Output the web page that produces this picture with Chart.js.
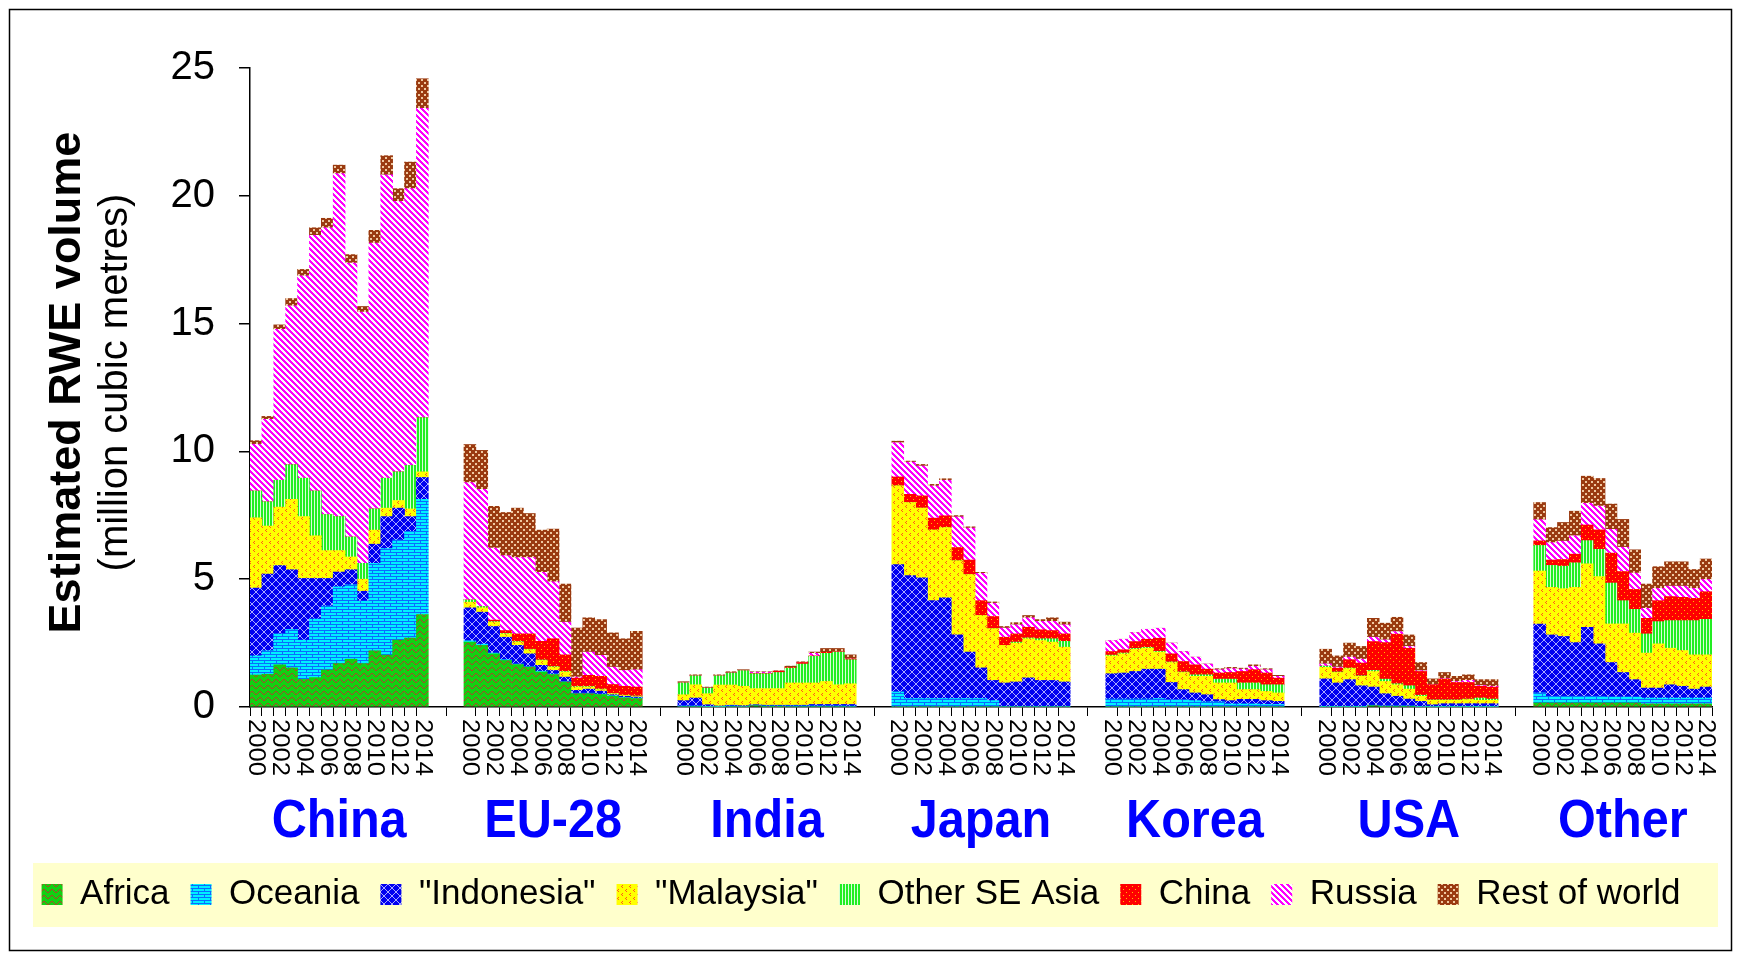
<!DOCTYPE html>
<html>
<head>
<meta charset="utf-8">
<script src="https://cdn.jsdelivr.net/npm/chart.js@4"></script>
<style>
  html, body { margin: 0; padding: 0; background: #fff; }
  canvas { display: block; }
</style>
</head>
<body>
<canvas id="c" width="1741" height="954"></canvas>
<script>
// groups along the x axis, 15 years each
const regions = ['China', 'EU-28', 'India', 'Japan', 'Korea', 'USA', 'Other']
const years = ['2000', '2001', '2002', '2003', '2004', '2005', '2006', '2007',
  '2008', '2009', '2010', '2011', '2012', '2013', '2014']
const yTicks = [0, 5, 10, 15, 20, 25]

// million m3 RWE, one row of 15 years per region (China, EU-28, India, Japan, Korea, USA, Other)
const africa = [
  1.25, 1.28, 1.65, 1.53, 1.08, 1.15, 1.45, 1.7, 1.87, 1.7, 2.2, 2.03, 2.62, 2.7, 3.62,
  2.54, 2.41, 2.08, 1.82, 1.66, 1.56, 1.37, 1.27, 0.98, 0.52, 0.52, 0.49, 0.42, 0.36, 0.33,
  0, 0, 0, 0, 0, 0, 0.05, 0.03, 0.03, 0, 0, 0, 0, 0, 0,
  0, 0, 0, 0, 0, 0, 0, 0, 0, 0, 0, 0, 0, 0, 0,
  0, 0, 0, 0, 0, 0, 0, 0, 0, 0, 0, 0, 0, 0, 0,
  0, 0, 0, 0, 0.05, 0.03, 0.03, 0.03, 0, 0, 0, 0, 0, 0, 0,
  0.16, 0.16, 0.16, 0.16, 0.16, 0.16, 0.16, 0.16, 0.16, 0.12, 0.12, 0.12, 0.12, 0.12, 0.12,
]
const oceania = [
  0.75, 0.92, 1.22, 1.5, 1.54, 2.3, 2.5, 3.0, 2.91, 2.45, 3.42, 4.17, 3.91, 4.17, 4.5,
  0.05, 0.05, 0.03, 0.03, 0.03, 0.03, 0.03, 0.02, 0.02, 0.02, 0.02, 0.02, 0.02, 0.02, 0.02,
  0.05, 0.05, 0.02, 0.02, 0.05, 0.03, 0.02, 0.02, 0.02, 0.05, 0.05, 0.05, 0.05, 0.05, 0.04,
  0.59, 0.33, 0.33, 0.33, 0.33, 0.33, 0.33, 0.33, 0.25, 0.03, 0.03, 0.03, 0.03, 0.03, 0.03,
  0.31, 0.31, 0.31, 0.31, 0.33, 0.29, 0.29, 0.25, 0.2, 0.2, 0.12, 0.12, 0.12, 0.1, 0.1,
  0.02, 0.02, 0.02, 0.02, 0.02, 0.02, 0.02, 0.02, 0.02, 0.02, 0.02, 0.02, 0.02, 0.02, 0.02,
  0.39, 0.26, 0.26, 0.26, 0.26, 0.26, 0.24, 0.24, 0.24, 0.23, 0.23, 0.23, 0.23, 0.23, 0.23,
]
const indonesia = [
  2.65, 3.0, 2.66, 2.34, 2.41, 1.58, 1.08, 0.58, 0.59, 0.38, 0.75, 1.25, 1.25, 0.58, 0.86,
  1.29, 1.25, 1.04, 0.88, 0.72, 0.49, 0.23, 0.14, 0.17, 0.11, 0.16, 0.11, 0.04, 0.04, 0.04,
  0.2, 0.3, 0.07, 0.02, 0.02, 0.02, 0.02, 0.02, 0.02, 0.02, 0.02, 0.05, 0.05, 0.05, 0.06,
  4.98, 4.81, 4.72, 3.83, 3.94, 2.49, 1.82, 1.2, 0.79, 0.91, 0.95, 1.11, 1.01, 1.01, 0.95,
  0.99, 1.02, 1.08, 1.17, 1.15, 0.67, 0.39, 0.3, 0.28, 0.09, 0.13, 0.18, 0.18, 0.15, 0.12,
  1.08, 0.92, 1.05, 0.81, 0.71, 0.47, 0.37, 0.26, 0.2, 0.07, 0.11, 0.11, 0.11, 0.11, 0.11,
  2.69, 2.4, 2.34, 2.1, 2.7, 2.05, 1.34, 0.95, 0.67, 0.39, 0.39, 0.52, 0.46, 0.35, 0.43,
]
const malaysia = [
  2.75, 1.88, 2.29, 2.75, 2.42, 1.67, 1.09, 0.84, 0.5, 0.47, 0.55, 0.33, 0.3, 0.3, 0.22,
  0.22, 0.17, 0.17, 0.13, 0.13, 0.16, 0.19, 0.13, 0.2, 0.13, 0.08, 0.06, 0.04, 0.03, 0.03,
  0.23, 0.52, 0.43, 0.82, 0.79, 0.76, 0.63, 0.65, 0.65, 0.87, 0.87, 0.84, 0.9, 0.77, 0.81,
  3.08, 2.86, 2.73, 2.76, 2.75, 2.9, 3.03, 2.05, 2.02, 1.47, 1.52, 1.53, 1.56, 1.5, 1.36,
  0.7, 0.75, 0.87, 0.82, 0.67, 0.78, 0.67, 0.65, 0.72, 0.65, 0.69, 0.38, 0.38, 0.36, 0.33,
  0.45, 0.41, 0.43, 0.37, 0.61, 0.48, 0.45, 0.39, 0.2, 0.17, 0.13, 0.13, 0.16, 0.13, 0.13,
  2.08, 1.86, 1.87, 2.16, 2.48, 2.63, 1.51, 1.9, 1.82, 1.37, 1.73, 1.43, 1.4, 1.34, 1.26,
]
const otherSEAsia = [
  1.05, 0.95, 1.05, 1.36, 1.5, 1.75, 1.41, 1.33, 0.78, 0.62, 0.83, 1.17, 1.12, 1.7, 2.12,
  0.09, 0.05, 0.02, 0.02, 0.02, 0.02, 0.02, 0.02, 0.02, 0.02, 0.02, 0.02, 0.01, 0.01, 0.01,
  0.46, 0.35, 0.22, 0.36, 0.47, 0.61, 0.58, 0.58, 0.63, 0.58, 0.74, 1.04, 1.1, 1.28, 0.94,
  0, 0, 0, 0, 0, 0, 0, 0, 0, 0, 0.04, 0.03, 0.07, 0.13, 0.23,
  0.03, 0.03, 0.03, 0.03, 0.03, 0.02, 0.02, 0.06, 0.06, 0.15, 0.15, 0.26, 0.26, 0.26, 0.32,
  0.05, 0.02, 0.02, 0.02, 0.04, 0.09, 0.04, 0.13, 0.04, 0.02, 0.02, 0.02, 0.02, 0.09, 0.05,
  1.0, 0.86, 0.88, 0.96, 0.91, 1.07, 1.6, 0.91, 0.93, 0.75, 0.87, 1.08, 1.17, 1.34, 1.39,
]
const chinaSource = [
  0, 0, 0, 0, 0, 0, 0, 0, 0, 0, 0, 0, 0, 0, 0,
  0, 0, 0.06, 0.11, 0.3, 0.6, 0.73, 1.09, 0.65, 0.33, 0.44, 0.5, 0.35, 0.35, 0.35,
  0, 0, 0, 0, 0, 0, 0.02, 0.02, 0.05, 0.03, 0.06, 0.02, 0.04, 0.02, 0.03,
  0.35, 0.32, 0.48, 0.47, 0.46, 0.52, 0.57, 0.58, 0.48, 0.32, 0.32, 0.42, 0.35, 0.32, 0.29,
  0.14, 0.13, 0.27, 0.32, 0.51, 0.32, 0.41, 0.39, 0.22, 0.24, 0.26, 0.45, 0.52, 0.46, 0.26,
  0, 0.15, 0.33, 0.5, 1.13, 1.43, 1.94, 1.47, 0.93, 0.59, 0.81, 0.68, 0.65, 0.46, 0.47,
  0.18, 0.21, 0.26, 0.34, 0.61, 0.76, 1.17, 1.14, 0.78, 0.61, 0.82, 0.94, 0.91, 0.87, 1.08,
]
const russia = [
  1.83, 3.22, 5.91, 6.22, 7.92, 10.0, 11.22, 13.42, 10.72, 9.83, 10.4, 11.87, 10.58, 10.83, 12.1,
  4.59, 4.59, 2.82, 2.93, 2.99, 2.99, 2.7, 2.23, 1.28, 0.04, 0.91, 0.82, 0.68, 0.62, 0.68,
  0, 0, 0, 0, 0, 0, 0.04, 0.04, 0, 0, 0, 0.1, 0, 0, 0,
  1.34, 1.26, 1.17, 1.26, 1.39, 1.2, 1.25, 1.07, 0.52, 0.36, 0.36, 0.37, 0.33, 0.36, 0.36,
  0.43, 0.41, 0.35, 0.39, 0.39, 0.42, 0.39, 0.3, 0.2, 0.13, 0.15, 0.09, 0.13, 0.13, 0.07,
  0.09, 0.04, 0.1, 0.15, 0.17, 0.11, 0.1, 0.07, 0.03, 0, 0.02, 0.04, 0.08, 0.03, 0.03,
  0.83, 0.68, 0.72, 0.72, 0.85, 0.93, 0.93, 0.95, 0.64, 0.39, 0.48, 0.41, 0.44, 0.39, 0.48,
]
const restOfWorld = [
  0.14, 0.12, 0.17, 0.28, 0.25, 0.3, 0.37, 0.33, 0.33, 0.22, 0.5, 0.75, 0.5, 1.04, 1.16,
  1.49, 1.52, 1.63, 1.69, 1.93, 1.72, 1.65, 2.06, 1.49, 1.92, 1.34, 1.4, 1.34, 1.24, 1.5,
  0.05, 0.04, 0.04, 0.04, 0.05, 0.04, 0.02, 0.02, 0.02, 0.05, 0.03, 0.05, 0.15, 0.12, 0.16,
  0.06, 0.04, 0.06, 0.06, 0.06, 0.05, 0.05, 0.04, 0.05, 0.06, 0.08, 0.09, 0.07, 0.14, 0.1,
  0, 0, 0, 0, 0, 0, 0, 0, 0, 0.04, 0.05, 0.04, 0.06, 0.04, 0.04,
  0.57, 0.44, 0.55, 0.5, 0.74, 0.65, 0.56, 0.45, 0.32, 0.23, 0.24, 0.2, 0.22, 0.23, 0.26,
  0.67, 0.59, 0.73, 0.96, 1.06, 1.08, 0.99, 1.09, 0.91, 0.95, 0.85, 0.95, 0.95, 0.74, 0.8,
]

const GAP = 3 // empty slots between regions
const FONT = "'Liberation Sans', Arial, sans-serif"

// put empty slots between the regions
function spread(values) {
  const out = []
  regions.forEach((r, i) => {
    out.push(...values.slice(i * years.length, (i + 1) * years.length))
    if (i < regions.length - 1) for (let k = 0; k < GAP; k++) out.push(null)
  })
  return out
}
const labels = spread(regions.flatMap((r) => years.map((y) => r + ' ' + y)))

const canvas = document.getElementById('c')
const ctx = canvas.getContext('2d')

function pattern(w, h, bg, paint) {
  const tile = document.createElement('canvas')
  tile.width = w
  tile.height = h
  const g = tile.getContext('2d')
  g.fillStyle = bg
  g.fillRect(0, 0, w, h)
  paint(g)
  return ctx.createPattern(tile, 'repeat')
}

const fills = {
  africa: pattern(8, 6, '#12d012', (g) => {
    g.strokeStyle = '#b0402a'
    g.lineWidth = 1
    g.beginPath(); g.moveTo(0, 5); g.lineTo(4, 1); g.lineTo(8, 5); g.stroke()
  }),
  oceania: pattern(12, 6, '#00f0ff', (g) => {
    g.fillStyle = '#0a6cff'
    g.fillRect(0, 0, 12, 1); g.fillRect(0, 3, 12, 1)
    g.fillRect(0, 0, 1, 3); g.fillRect(6, 3, 1, 3)
  }),
  indonesia: pattern(8, 8, '#0000f0', (g) => {
    g.strokeStyle = '#a8a8ff'
    g.lineWidth = 1
    g.beginPath(); g.moveTo(0, 0); g.lineTo(8, 8); g.moveTo(8, 0); g.lineTo(0, 8); g.stroke()
  }),
  malaysia: pattern(8, 8, '#ffff00', (g) => {
    g.fillStyle = '#ff5a1a'
    g.fillRect(2, 1, 1, 1); g.fillRect(1, 2, 1, 1); g.fillRect(2, 3, 1, 1)
    g.fillRect(6, 5, 1, 1); g.fillRect(5, 6, 1, 1); g.fillRect(6, 7, 1, 1)
  }),
  otherSE: pattern(3, 1, '#d8ffd8', (g) => {
    g.fillStyle = '#22ee22'
    g.fillRect(0, 0, 2, 1)
  }),
  china: pattern(6, 6, '#ff0000', (g) => {
    g.fillStyle = '#ffc000'
    g.fillRect(1, 1, 1, 1); g.fillRect(4, 4, 1, 1)
  }),
  russia: pattern(6, 6, '#ffffff', (g) => {
    g.fillStyle = '#ff00ff'
    for (let y = 0; y < 6; y++) for (let x = 0; x < 6; x++) {
      if (((x - y) % 6 + 6) % 6 < 3) g.fillRect(x, y, 1, 1)
    }
  }),
  rest: pattern(6, 6, '#9a3a10', (g) => {
    g.fillStyle = '#f0c8a0'
    g.fillRect(1, 1, 2, 2); g.fillRect(4, 4, 2, 2)
  }),
}

const series = [
  ['Africa', africa, fills.africa],
  ['Oceania', oceania, fills.oceania],
  ['"Indonesia"', indonesia, fills.indonesia],
  ['"Malaysia"', malaysia, fills.malaysia],
  ['Other SE Asia', otherSEAsia, fills.otherSE],
  ['China', chinaSource, fills.china],
  ['Russia', russia, fills.russia],
  ['Rest of world', restOfWorld, fills.rest],
]

const backdrop = {
  id: 'backdrop',
  beforeDraw(chart) {
    const c = chart.ctx
    c.save()
    c.fillStyle = '#fff'
    c.fillRect(0, 0, chart.width, chart.height)
    c.fillStyle = '#ffffcc'
    c.fillRect(33, chart.legend.top + 7, 1685, 64)
    c.strokeStyle = '#000'
    c.lineWidth = 1.5
    c.strokeRect(9.5, 9.5, 1722, 941)
    c.restore()
  },
}

const texts = {
  id: 'texts',
  afterDraw(chart) {
    const c = chart.ctx
    const xs = chart.scales.x
    const area = chart.chartArea
    c.save()
    c.fillStyle = '#000'
    regions.forEach((r, gi) => {
      const start = gi * (years.length + GAP)
      for (let k = 0; k < years.length; k += 2) {
        c.save()
        c.translate(xs.getPixelForValue(start + k), area.bottom + 12)
        c.rotate(Math.PI / 2)
        c.scale(1.07, 1)
        c.font = '24px ' + FONT
        c.textAlign = 'left'
        c.textBaseline = 'middle'
        c.fillText(years[k], 0, 0)
        c.restore()
      }
      const cx = (xs.getPixelForValue(start) + xs.getPixelForValue(start + years.length - 1)) / 2
      c.save()
      c.translate(cx, area.bottom + 130)
      c.scale(0.9, 1)
      c.font = 'bold 54px ' + FONT
      c.fillStyle = '#0000ff'
      c.textAlign = 'center'
      c.textBaseline = 'alphabetic'
      c.fillText(r, 0, 0)
      c.restore()
    })
    const cy = (area.top + area.bottom) / 2 - 5
    c.translate(80, cy)
    c.rotate(-Math.PI / 2)
    c.textAlign = 'center'
    c.textBaseline = 'alphabetic'
    c.font = 'bold 45px ' + FONT
    c.fillText('Estimated RWE volume', 0, 0)
    c.font = '40px ' + FONT
    c.fillText('(million cubic metres)', 0, 47)
    c.restore()
  },
}

new Chart(canvas, {
  type: 'bar',
  data: {
    labels: labels,
    datasets: series.map(([name, values, fill]) => ({
      label: name,
      data: spread(values),
      backgroundColor: fill,
      borderWidth: 0,
      barPercentage: 1,
      categoryPercentage: 1,
    })),
  },
  options: {
    responsive: false,
    animation: false,
    devicePixelRatio: 1,
    font: { family: FONT },
    color: '#000',
    layout: { padding: { left: 10, right: 29, top: 68, bottom: 32 } },
    scales: {
      x: {
        stacked: true,
        ticks: { display: false },
        grid: { drawOnChartArea: false, drawTicks: true, tickLength: 9, color: '#000', lineWidth: 1 },
        border: { color: '#000', width: 1.5 },
        afterFit: (s) => { s.height = 149 },
      },
      y: {
        stacked: true,
        min: yTicks[0],
        max: yTicks[yTicks.length - 1],
        afterBuildTicks: (s) => { s.ticks = yTicks.map((v) => ({ value: v })) },
        ticks: { color: '#000', padding: 24, font: { family: FONT, size: 40 } },
        grid: { drawOnChartArea: false, drawTicks: true, tickLength: 11, color: '#000', lineWidth: 1.5 },
        border: { color: '#000', width: 1.5 },
        afterFit: (s) => { s.width = 240 },
      },
    },
    plugins: {
      legend: {
        position: 'bottom',
        labels: {
          color: '#000',
          boxWidth: 21,
          boxHeight: 21,
          padding: 21,
          font: { family: FONT, size: 35 },
        },
      },
      tooltip: { enabled: false },
    },
  },
  plugins: [backdrop, texts],
})
</script>
</body>
</html>
